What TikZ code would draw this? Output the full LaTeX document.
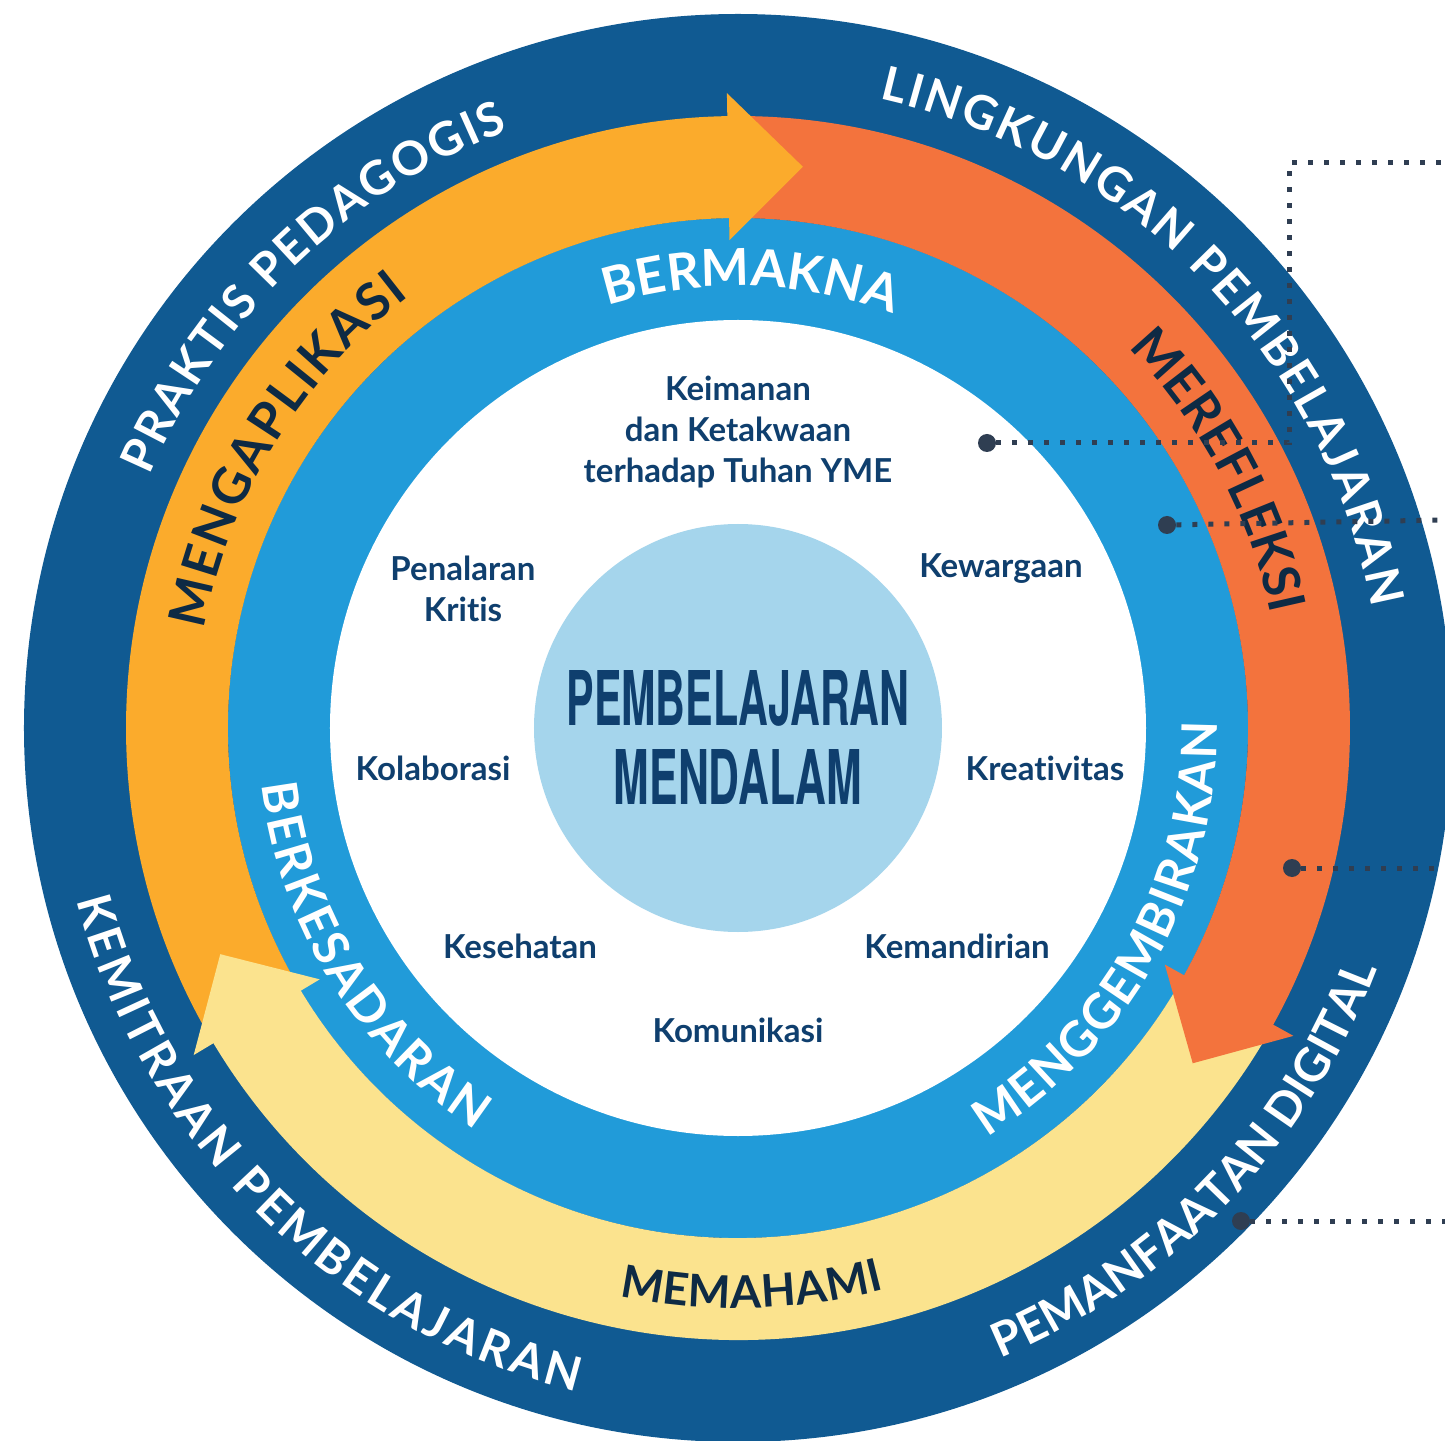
\documentclass[tikz,border=0pt]{standalone}
\usepackage{fontspec}
\usepackage{graphicx}
\usetikzlibrary{decorations.text}
\setmainfont{Lato}
\newfontfamily\ringfont{Lato}
\newfontfamily\labelfont[Ligatures=NoCommon]{Lato}
\newfontfamily\titlefont{TeX Gyre Heros}
\definecolor{outerblue}{HTML}{105A92}
\definecolor{midblue}{HTML}{219BD9}
\definecolor{amber}{HTML}{FBAB2C}
\definecolor{orangey}{HTML}{F3733D}
\definecolor{paleyellow}{HTML}{FBE38E}
\definecolor{paleblue}{HTML}{A5D5EC}
\definecolor{labelblue}{HTML}{0F3F6E}
\definecolor{arrowtext}{HTML}{0E2A44}
\definecolor{dotcol}{HTML}{2F3E52}
\newcommand{\ringband}[3]{\fill[#1] (#2:612) arc[start angle=#2,end angle=#3,radius=612] -- (#3:510) arc[start angle=#3,end angle=#2,radius=510] -- cycle;}
\newcommand{\arrowhead}[3]{\fill[#1] (#2:635) -- (#3:565) -- (#2:488) -- cycle;}
\newcommand{\ringtext}[5]{\path[decorate,decoration={text along path,text={|#1|#2},text align={fit to path}}] (#3:#5) arc[start angle=#3,end angle=#4,radius=#5];}
\tikzset{
  lab/.style={font=\labelfont\bfseries\fontsize{16.5}{20.5}\selectfont,text=labelblue,align=center,inner sep=0pt},
  titlelab/.style={text=labelblue,inner sep=0pt},
  leader/.style={draw=dotcol,line width=2.5pt,dash pattern=on 2.5pt off 5.5pt},
  dotmark/.style={circle,fill=dotcol,minimum size=9pt,inner sep=0pt}
}
\begin{document}
\begin{tikzpicture}[x=0.5pt,y=0.5pt]
\useasboundingbox (-738,-712) rectangle (707,728);
\clip (-738,-712) rectangle (707,728);
\fill[outerblue] (0,0) circle[radius=714];
\fill[midblue] (0,0) circle[radius=510];
\fill[white] (0,0) circle[radius=408];
\fill[paleblue] (0,0) circle[radius=204];
% bands
\ringband{amber}{90.6}{209.5}
\ringband{orangey}{89.5}{-29.4}
\ringband{paleyellow}{210.6}{329}
% heads
\arrowhead{amber}{91}{83.4}
\arrowhead{orangey}{-29}{-36.4}
\arrowhead{paleyellow}{211}{203.6}
% curved text
\ringtext{\color{white}\ringfont\bfseries\fontsize{23.5}{24}\selectfont}{PRAKTIS PEDAGOGIS}{156.8}{111}{640}
\ringtext{\color{white}\ringfont\bfseries\fontsize{23.5}{24}\selectfont}{LINGKUNGAN PEMBELAJARAN}{77.3}{10.8}{645}
\ringtext{\color{white}\ringfont\bfseries\fontsize{23.5}{24}\selectfont}{KEMITRAAN PEMBELAJARAN}{194.6}{256.3}{683}
\ringtext{\color{white}\ringfont\bfseries\fontsize{23.5}{24}\selectfont}{PEMANFAATAN DIGITAL}{-67.4}{-20.7}{683}
\ringtext{\color{arrowtext}\ringfont\bfseries\fontsize{25.5}{26}\selectfont}{MENGAPLIKASI}{169.6}{127.3}{543}
\ringtext{\color{arrowtext}\ringfont\bfseries\fontsize{25.5}{26}\selectfont}{MEREFLEKSI}{44.3}{12}{545}
\ringtext{\color{arrowtext}\ringfont\bfseries\fontsize{22.5}{24}\selectfont}{MEMAHAMI}{258.2}{284.6}{580}
\ringtext{\color{white}\ringfont\bfseries\fontsize{25.5}{26}\selectfont}{BERMAKNA}{107.2}{69.5}{442}
\ringtext{\color{white}\ringfont\bfseries\fontsize{24.5}{25}\selectfont}{BERKESADARAN}{186.8}{236.8}{480}
\ringtext{\color{white}\ringfont\bfseries\fontsize{24.5}{25}\selectfont}{MENGGEMBIRAKAN}{-58.7}{0.7}{479}
% labels
\node[lab] (iman) at (0,296) {Keimanan\\dan Ketakwaan\\terhadap Tuhan YME};
\node[lab] (warga) at (263,159) {Kewargaan};
\node[lab] (nalar) at (-275,139) {Penalaran\\Kritis};
\node[lab] (kolab) at (-305,-40) {Kolaborasi};
\node[lab] (kreat) at (307,-40) {Kreativitas};
\node[lab] (sehat) at (-218,-218) {Kesehatan};
\node[lab] (mandiri) at (219,-218) {Kemandirian};
\node[lab] (komun) at (0,-302) {Komunikasi};
\node[titlelab] (t1) at (0,30) {\resizebox{171.5pt}{27.5pt}{\titlefont\bfseries PEMBELAJARAN}};
\node[titlelab] (t2) at (0,-49) {\resizebox{124pt}{27.5pt}{\titlefont\bfseries MENDALAM}};
% leaders
\node[dotmark] (d1) at (249,285) {};
\node[dotmark] (d2) at (429,203) {};
\node[dotmark] (d3) at (554,-140) {};
\node[dotmark] (d4) at (503,-493) {};
\coordinate (c1a) at (551,285);
\coordinate (c1b) at (551,565);
\coordinate (e1) at (707,565);
\coordinate (e2) at (707,208);
\coordinate (e3) at (707,-140);
\coordinate (e4) at (707,-493);
\draw[leader] (d1) -- (c1a) -- (c1b) -- (e1);
\draw[leader] (d2) -- (e2);
\draw[leader] (d3) -- (e3);
\draw[leader] (d4) -- (e4);
\end{tikzpicture}
\end{document}
